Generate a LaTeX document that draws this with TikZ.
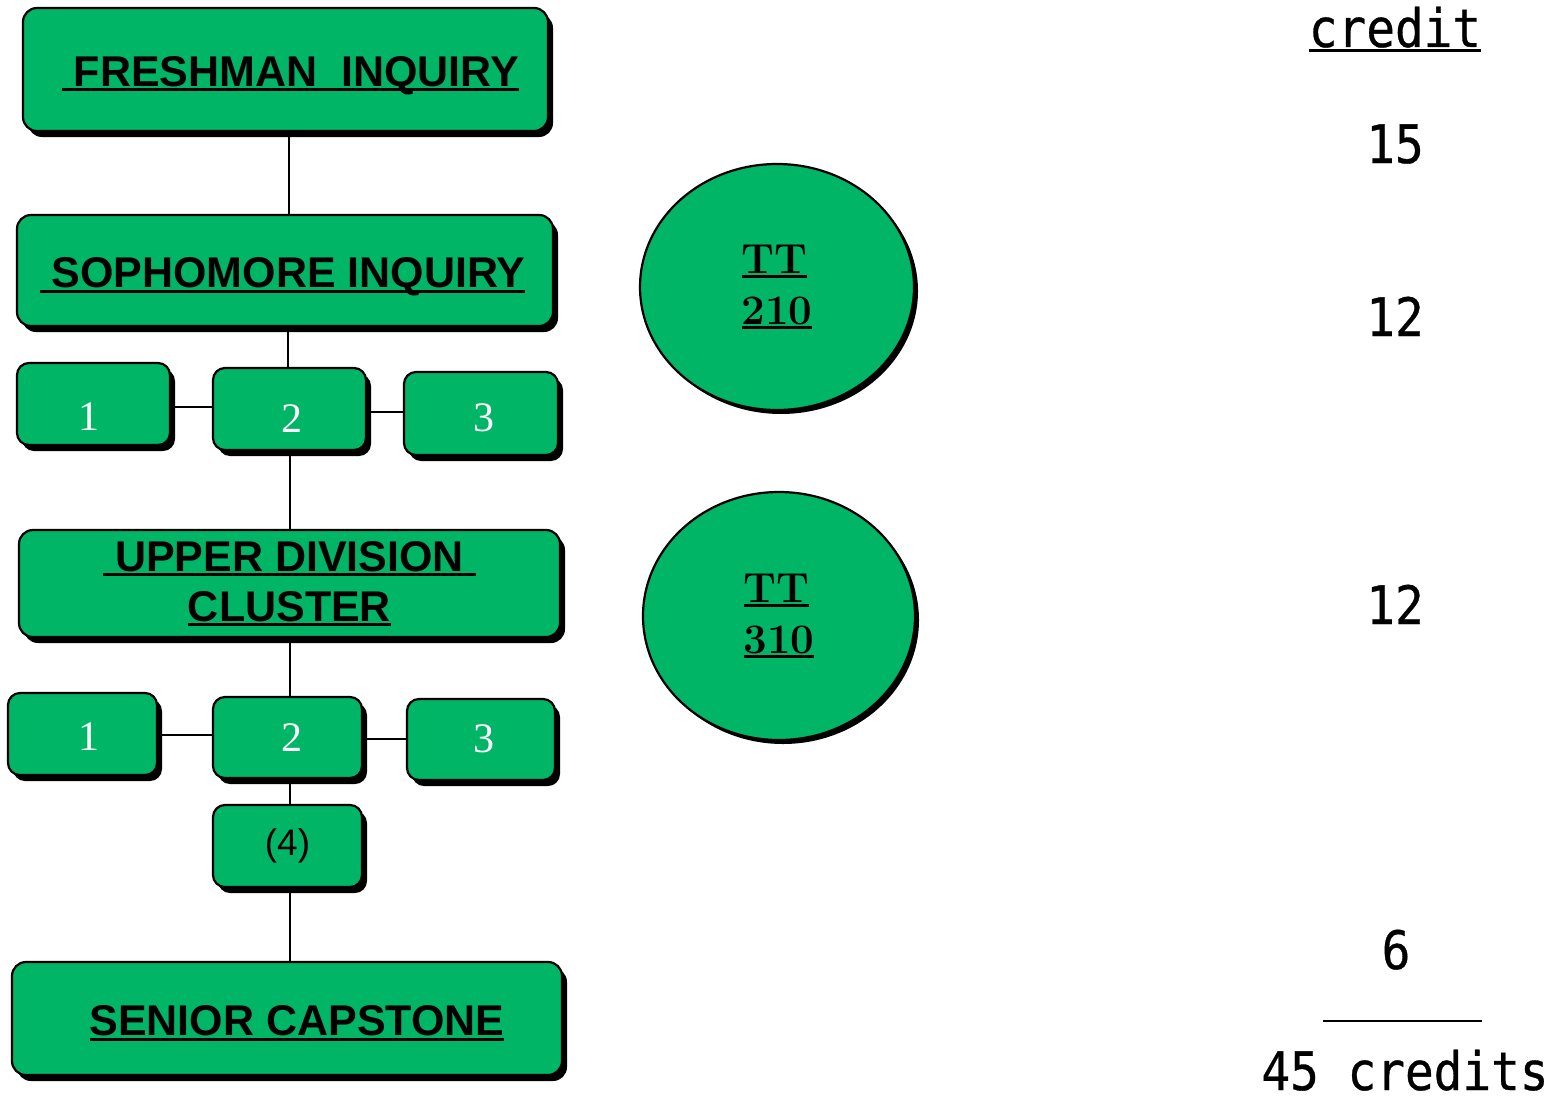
\documentclass[tikz,border=0pt]{standalone}
\usepackage{fontspec}
\usetikzlibrary{shapes.geometric,shadows,backgrounds}
\newfontfamily\arialf{Liberation Sans}
\newfontfamily\timesf{Liberation Serif}
\newfontfamily\monof[FakeStretch=0.9,FakeBold=0.6]{DejaVu Sans Mono}
\definecolor{grn}{RGB}{0,181,102}
\newcommand\myul[1]{\setbox0\hbox{#1}\rlap{\rule[-5pt]{\wd0}{3pt}}\box0}
\tikzset{
  shad/.style={drop shadow={shadow xshift=5pt,shadow yshift=-6pt,fill=black,opacity=1}},
  eshad/.style={drop shadow={shadow xshift=4pt,shadow yshift=-4pt,fill=black,opacity=1}},
  bigbox/.style={rectangle,rounded corners=14pt,draw=black,line width=2.2pt,fill=grn,shad,inner sep=0pt,
     font=\arialf\bfseries\fontsize{43}{50}\selectfont,align=center},
  numbox/.style={rectangle,rounded corners=12pt,draw=black,line width=2.2pt,fill=grn,shad,inner sep=0pt,
     minimum width=150pt,minimum height=82pt,font=\timesf\fontsize{42}{44}\selectfont,text=white},
  ttell/.style={ellipse,draw=black,line width=2.2pt,fill=grn,eshad,inner sep=0pt,
     font=\bfseries\fontsize{42}{51}\selectfont,align=left},
  credtxt/.style={anchor=base,inner sep=0pt,font=\monof\fontsize{53}{56}\selectfont},
  conn/.style={line width=2pt,draw=black}
}
\begin{document}
\begin{tikzpicture}[x=1pt,y=-1pt]
\useasboundingbox (0,0) rectangle (1562,1097);
% left column
\node[bigbox,minimum width=525pt,minimum height=123pt,text height=40pt,text depth=6pt] (fresh) at (285.5,69.5) {\kern10pt\myul{\ FRESHMAN\ \ INQUIRY}};
\node[bigbox,minimum width=536pt,minimum height=111pt,text height=40pt,text depth=6pt] (soph) at (285,270.5) {\myul{\ SOPHOMORE INQUIRY}\kern5pt};
\node[numbox,minimum width=153pt,text height=52pt,text depth=0pt] (a1) at (93.5,404) {1\kern9pt};
\node[numbox,minimum width=153pt,text height=46pt,text depth=0pt] (a2) at (289.5,409) {\kern5pt 2};
\node[numbox,minimum width=154pt,minimum height=83pt,text height=36pt,text depth=0pt] (a3) at (481,413.5) {\kern6pt 3};
\node[bigbox,minimum width=541pt,minimum height=107pt] (upper) at (289.5,583.5) {\myul{\ UPPER DIVISION\ }\\\myul{CLUSTER}};
\node[numbox,minimum width=149pt,text height=32pt,text depth=0pt] (b1) at (82.5,734) {\kern13pt 1};
\node[numbox,minimum width=149pt,minimum height=81pt,text height=28pt,text depth=0pt] (b2) at (287.5,737.5) {\kern9pt 2};
\node[numbox,minimum width=148pt,minimum height=81pt,text height=26pt,text depth=0pt] (b3) at (481,739.5) {\kern6pt 3};
\node[numbox,minimum width=149pt,text=black,font=\arialf\fontsize{37}{40}\selectfont] (b4) at (287.5,846) {(4)};
\node[bigbox,minimum width=550pt,minimum height=113pt,text height=40pt,text depth=6pt] (senior) at (287,1018.5) {\kern20pt\myul{SENIOR CAPSTONE}};
% ellipses
\node[ttell,minimum width=274pt,minimum height=246pt] (tt210) at (777,287) {\myul{TT}\\\myul{210}};
\node[ttell,minimum width=272pt,minimum height=248pt] (tt310) at (779,616) {\myul{TT}\\\myul{310}};
% credits column
\node[credtxt] (cred) at (1395,47) {\myul{credit}};
\node[credtxt] (c15) at (1395,163) {15};
\node[credtxt] (c12a) at (1395,336) {12};
\node[credtxt] (c12b) at (1395,624) {12};
\node[credtxt] (c6) at (1396,969) {6};
\coordinate (sumL) at (1323,1021);
\coordinate (sumR) at (1482,1021);
\draw[line width=2.5pt] (sumL) -- (sumR);
\node[credtxt] (total) at (1405,1090) {45 credits};
% connectors
\begin{scope}[on background layer]
\draw[conn] (289,0 |- fresh.south) -- (289,0 |- soph.north);
\draw[conn] (288,0 |- soph.south) -- (288,0 |- a2.north);
\draw[conn] (a1.east |- 0,407) -- (a2.west |- 0,407);
\draw[conn] (a2.east |- 0,412) -- (a3.west |- 0,412);
\draw[conn] (290,0 |- a2.south) -- (290,0 |- upper.north);
\draw[conn] (290,0 |- upper.south) -- (290,0 |- b2.north);
\draw[conn] (b1.east |- 0,735) -- (b2.west |- 0,735);
\draw[conn] (b2.east |- 0,739) -- (b3.west |- 0,739);
\draw[conn] (290,0 |- b2.south) -- (290,0 |- b4.north);
\draw[conn] (290,0 |- b4.south) -- (290,0 |- senior.north);
\end{scope}
\end{tikzpicture}
\end{document}
